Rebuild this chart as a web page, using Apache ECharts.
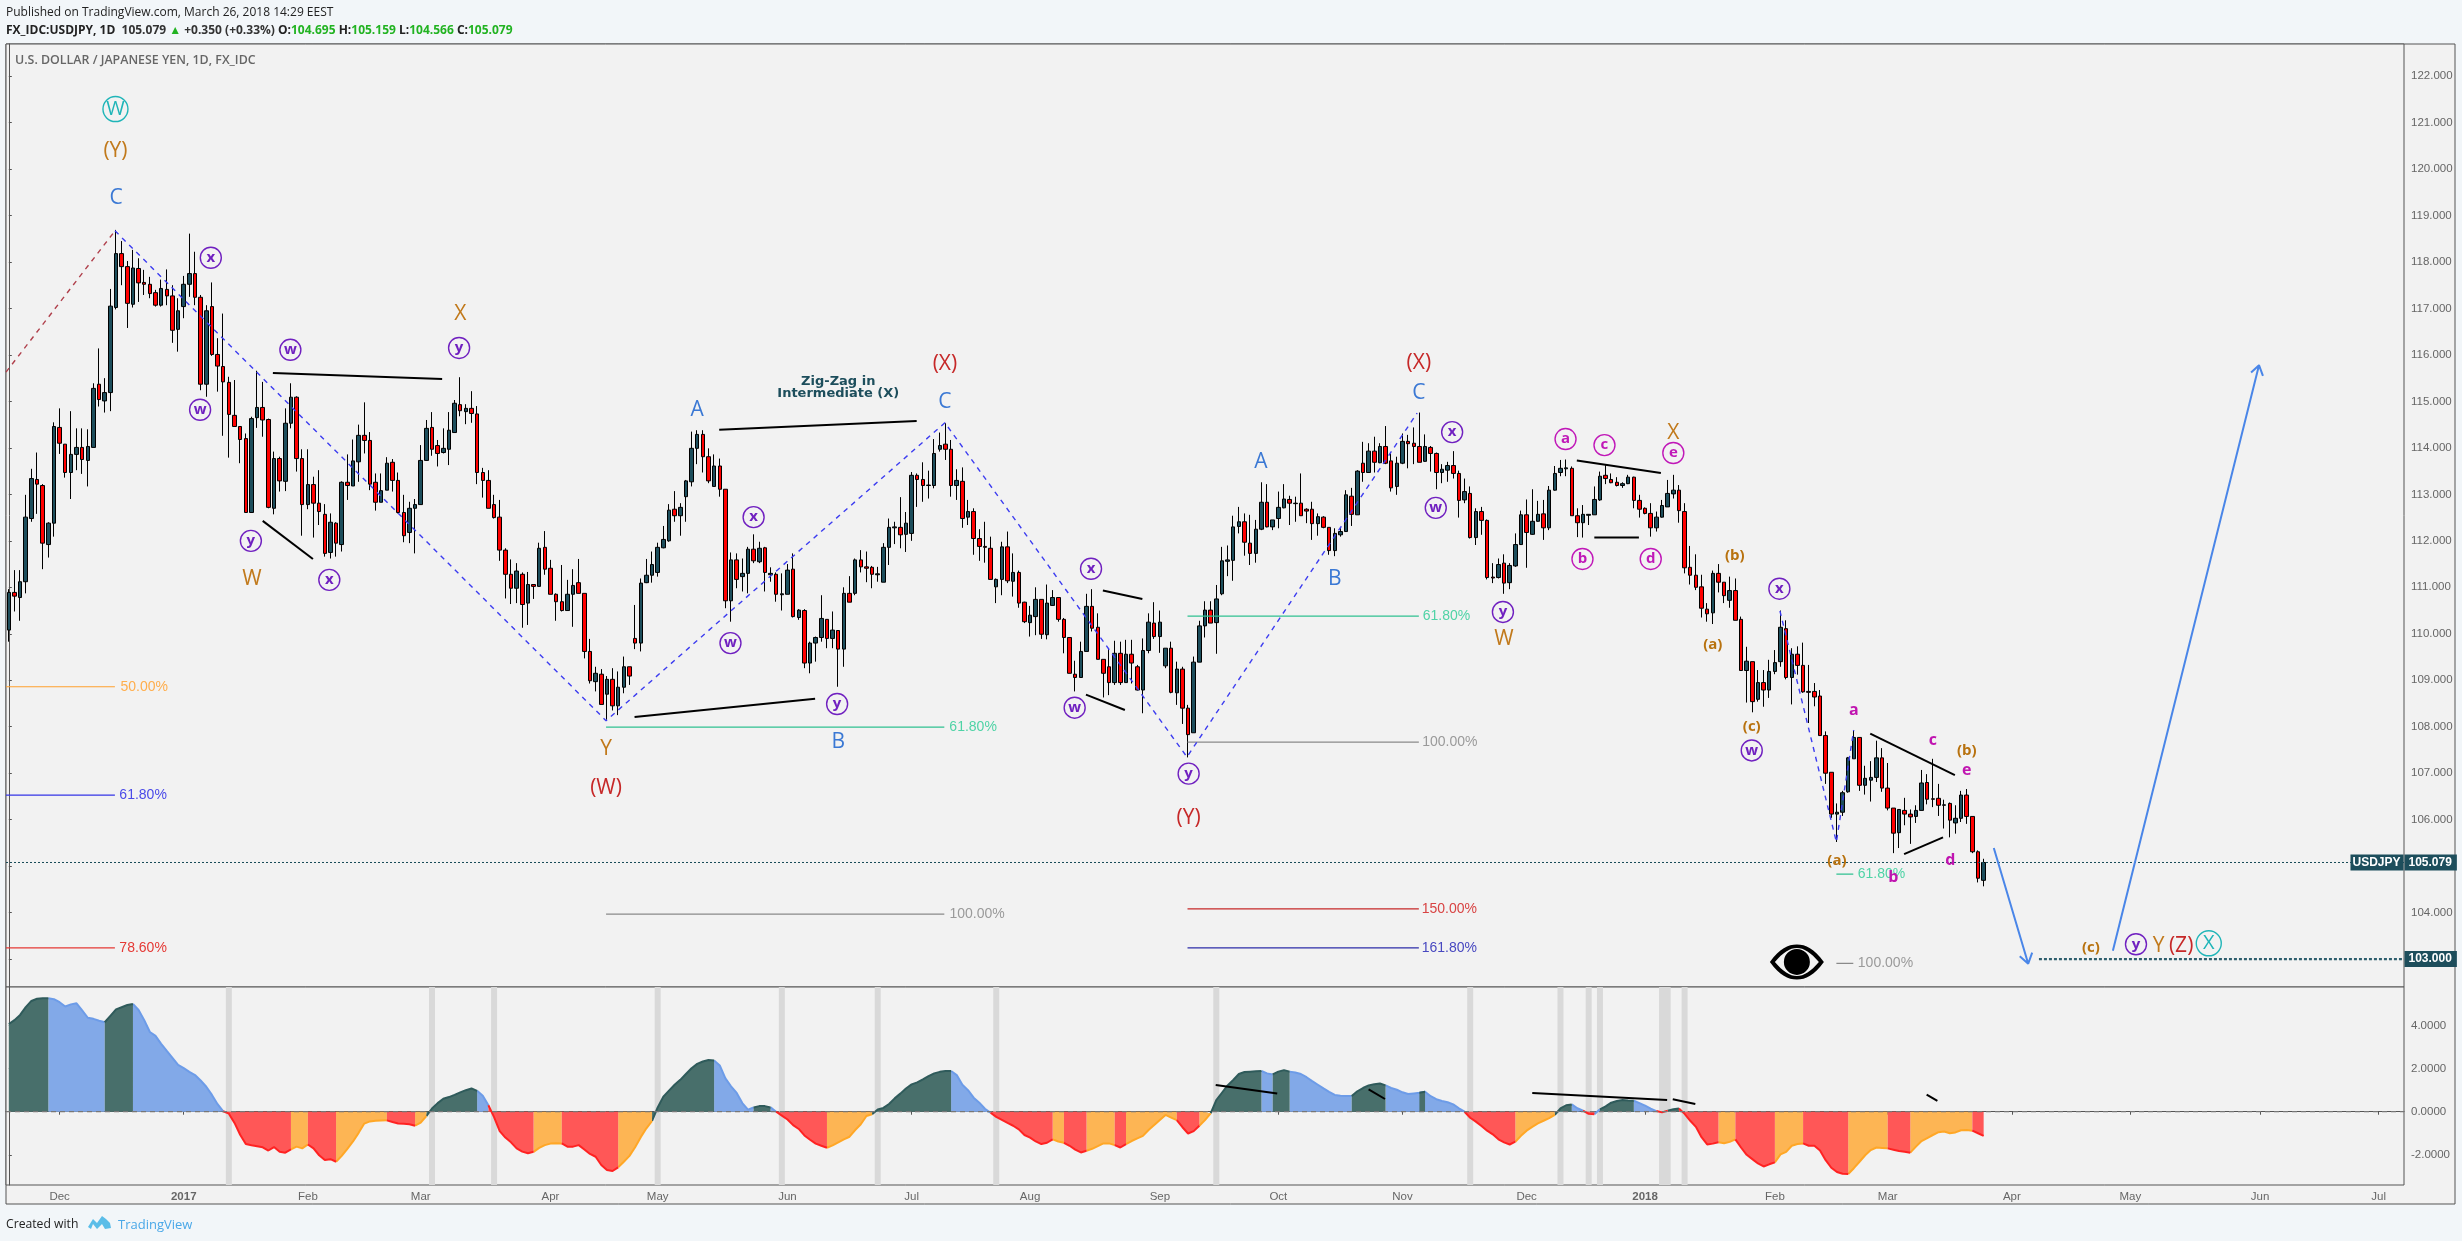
<!DOCTYPE html>
<html><head><meta charset="utf-8">
<style>html,body{margin:0;padding:0;background:#f2f6f9}#c{width:2462px;height:1241px}</style>
<script src="https://cdn.jsdelivr.net/npm/echarts@6/dist/echarts.min.js"></script>
</head><body><div id="c"></div>
<script>
// bar slots on the time axis (weekdays), real candles first, projection room after
const barCount = 425;
const categories = [];
(function(){ let d = new Date(Date.UTC(2016,10,18)); while(categories.length<barCount){ const w=d.getUTCDay(); if(w!==0&&w!==6) categories.push(d.toISOString().slice(0,10)); d=new Date(d.getTime()+864e5);} })();
// [open, close, low, high]
const ohlc = [
[110.08,110.89,109.83,110.96],[110.89,110.81,110.48,111.37],[110.78,111.12,110.28,111.37],[111.12,112.51,110.87,112.99],[112.48,113.34,112.41,113.55],
[113.32,113.22,112.58,113.90],[113.19,111.95,111.39,113.22],[111.92,112.38,111.64,112.40],[112.38,114.46,112.09,114.55],[114.44,114.10,113.87,114.85],
[114.08,113.47,113.36,114.08],[113.47,113.86,112.90,114.79],[113.86,114.01,113.52,114.42],[114.01,113.75,113.44,114.42],[113.73,114.03,113.17,114.40],
[114.01,115.28,114.01,115.39],[115.37,115.04,114.89,116.14],[115.01,115.19,114.76,115.50],[115.19,117.05,114.79,117.42],[117.02,118.18,116.98,118.69],
[118.18,117.90,117.50,118.45],[117.90,117.11,116.58,118.02],[117.09,117.87,117.02,118.26],[117.86,117.55,117.14,118.08],[117.56,117.52,117.29,117.83],
[117.52,117.32,117.22,117.68],[117.34,117.07,117.04,117.40],[117.07,117.43,117.04,117.62],[117.41,117.27,117.07,117.84],[117.27,116.53,116.26,117.50],
[116.55,116.95,116.07,117.22],[117.04,117.52,116.79,117.70],[117.52,117.75,117.25,118.61],[117.75,117.24,117.07,118.22],[117.24,115.37,115.24,117.29],
[115.37,116.95,115.10,117.07],[117.04,116.01,115.98,117.56],[116.01,115.76,115.21,116.36],[115.75,115.42,114.26,116.89],[115.41,114.72,113.79,115.53],
[114.70,114.46,114.46,115.46],[114.46,114.18,113.67,114.47],[114.20,112.61,112.61,114.31],[112.61,114.63,112.61,114.67],[114.65,114.87,114.43,115.66],
[114.87,114.60,114.24,115.42],[114.61,112.72,112.70,114.63],[112.70,113.77,112.57,113.92],[113.77,113.29,113.06,113.81],[113.28,114.53,113.07,114.85],
[114.53,115.09,114.42,115.39],[115.09,113.77,113.49,115.11],[113.77,112.78,112.11,113.97],[112.78,113.21,112.68,113.97],[113.21,112.81,112.07,113.38],
[112.81,112.63,112.34,113.52],[112.57,111.73,111.66,112.79],[111.75,112.40,111.62,112.59],[112.38,111.95,111.66,112.40],[111.92,113.26,111.77,113.28],
[113.26,113.19,112.88,113.86],[113.18,113.72,113.18,114.18],[113.70,114.27,113.27,114.50],[114.27,114.16,113.88,114.98],[114.16,113.22,113.09,114.34],
[113.26,112.83,112.65,113.45],[112.83,113.08,112.83,113.45],[113.09,113.67,113.09,113.80],[113.69,113.30,113.06,113.76],[113.30,112.61,112.59,113.47],
[112.61,112.11,111.97,112.99],[112.18,112.70,111.95,112.84],[112.70,112.78,111.73,112.90],[112.78,113.73,112.78,114.06],[113.73,114.42,113.72,114.60],
[114.44,113.97,113.83,114.77],[114.05,113.88,113.60,114.17],[113.90,113.99,113.88,114.42],[113.97,114.38,113.63,114.77],[114.33,114.96,114.33,115.03],
[114.93,114.80,114.68,115.52],[114.78,114.85,114.51,114.94],[114.85,114.74,114.54,115.22],[114.73,113.47,113.22,114.90],[113.47,113.30,112.93,113.57],
[113.30,112.70,112.70,113.52],[112.78,112.50,112.48,112.99],[112.51,111.80,111.57,112.88],[111.80,111.28,110.76,111.84],[111.28,110.98,110.64,111.60],
[110.98,111.35,110.66,111.52],[111.28,110.63,110.13,111.32],[110.66,111.06,110.19,111.33],[111.06,111.02,110.75,111.06],[111.02,111.84,111.02,111.96],
[111.86,111.39,111.27,112.21],[111.41,110.85,110.85,111.59],[110.85,110.69,110.28,110.87],[110.69,110.50,110.48,111.48],[110.50,110.85,110.50,111.16],
[110.85,111.04,110.15,111.39],[111.10,110.87,110.87,111.61],[110.87,109.62,109.47,110.87],[109.62,108.99,108.93,109.89],[108.97,109.15,108.76,109.29],
[109.13,108.48,108.48,109.24],[108.70,109.02,108.15,109.09],[109.02,108.45,108.35,109.26],[108.45,108.85,108.25,109.19],[108.85,109.29,108.72,109.51],
[109.29,109.09,108.90,109.29],[109.90,109.80,109.67,110.62],[109.80,111.09,109.62,111.19],[111.10,111.26,111.09,111.61],[111.26,111.49,111.10,111.77],
[111.32,111.86,111.23,111.96],[111.85,112.03,111.84,112.32],[112.00,112.66,111.98,112.79],[112.68,112.54,112.41,113.07],[112.54,112.72,112.11,112.81],
[112.95,113.29,112.41,113.31],[113.27,113.99,113.17,114.35],[113.99,114.29,113.65,114.38],[114.29,113.81,113.47,114.38],[113.81,113.29,113.24,113.99],
[113.17,113.61,113.17,113.86],[113.61,113.11,112.95,113.77],[113.11,110.71,110.55,113.11],[110.71,111.59,110.26,111.75],[111.59,111.17,110.98,111.73],
[111.23,111.30,110.91,111.62],[111.30,111.82,110.87,111.87],[111.82,111.57,111.52,112.14],[111.55,111.84,111.52,111.98],[111.85,111.32,110.91,111.87],
[111.27,111.30,111.12,111.43],[111.28,110.85,110.69,111.32],[110.84,110.86,110.50,111.30],[110.85,111.37,110.85,111.50],[111.39,110.37,110.35,111.73],
[110.35,110.51,110.30,110.53],[110.50,109.37,109.26,110.53],[109.37,109.80,109.15,109.83],[109.80,109.92,109.40,109.94],[109.92,110.33,109.83,110.83],
[110.31,109.90,109.69,110.31],[109.90,110.08,109.69,110.48],[110.07,109.67,108.86,110.07],[109.67,110.87,109.29,111.00],[110.87,110.68,110.68,111.24],
[110.87,111.59,110.83,111.62],[111.59,111.44,111.32,111.80],[111.44,111.41,111.11,111.77],[111.43,111.28,110.98,111.46],[111.27,111.29,111.12,111.44],
[111.11,111.86,111.11,111.95],[111.86,112.29,111.48,112.48],[112.28,112.30,111.93,112.41],[112.29,112.13,111.84,112.94],[112.14,112.38,111.76,112.62],
[112.16,113.41,112.00,113.48],[113.41,113.32,112.73,113.45],[113.32,113.19,112.84,113.69],[113.19,113.20,112.91,113.51],[113.19,113.88,113.13,114.19],
[113.97,114.05,113.92,114.33],[114.08,113.97,113.74,114.53],[113.97,113.19,112.95,114.17],[113.19,113.30,112.88,113.54],[113.28,112.48,112.28,113.58],
[112.51,112.63,112.34,112.88],[112.63,112.05,111.70,112.70],[112.05,111.88,111.57,112.25],[111.88,111.86,111.53,112.41],[111.84,111.17,111.17,112.09],
[111.01,111.17,110.66,111.19],[111.17,111.87,110.83,111.98],[111.87,111.14,111.09,112.20],[111.13,111.32,110.80,111.73],[111.32,110.66,110.56,111.36],
[110.68,110.26,110.23,110.69],[110.24,110.40,109.94,110.60],[110.37,110.74,109.97,111.00],[110.74,109.99,109.89,110.74],[109.98,110.66,109.88,111.06],
[110.61,110.78,110.60,110.94],[110.78,110.31,110.26,110.78],[110.31,109.92,109.58,110.34],[109.92,109.15,109.15,109.92],[109.13,109.06,108.76,109.42],
[109.06,109.62,109.06,109.83],[109.62,110.59,109.62,110.86],[110.59,110.12,110.05,110.96],[110.14,109.45,109.45,110.44],[109.45,109.15,108.63,109.45],
[109.29,108.95,108.68,109.69],[108.95,109.58,108.90,109.85],[109.58,108.95,108.90,109.83],[108.95,109.56,108.95,109.87],[109.56,109.37,108.93,109.87],
[109.29,108.79,108.78,109.33],[108.79,109.64,108.29,109.90],[109.64,110.25,109.58,110.44],[110.23,109.94,109.89,110.68],[109.94,110.25,109.59,110.50],
[109.31,109.69,109.26,109.69],[109.69,108.74,108.72,109.83],[108.73,109.24,108.47,109.40],[109.24,108.40,108.06,109.29],[108.40,107.83,107.34,108.47],
[107.87,109.39,107.87,109.51],[109.39,110.17,109.39,110.28],[110.17,110.51,109.92,110.70],[110.51,110.23,110.23,110.70],[110.24,110.75,109.57,111.05],
[110.86,111.57,110.83,111.87],[111.56,111.59,111.24,111.90],[111.58,112.30,111.14,112.54],[112.31,112.41,112.16,112.73],[112.41,111.97,111.68,112.59],
[111.95,111.73,111.48,112.56],[111.73,112.25,111.53,112.45],[112.25,112.83,112.23,113.26],[112.83,112.30,112.29,113.22],[112.30,112.45,112.23,112.45],
[112.48,112.72,112.27,113.06],[112.71,112.90,112.70,113.22],[112.89,112.81,112.34,112.97],[112.80,112.81,112.41,112.95],[112.81,112.54,112.54,113.45],
[112.68,112.64,112.38,112.70],[112.68,112.37,112.02,112.84],[112.37,112.52,112.11,112.59],[112.51,112.29,112.27,112.53],[112.29,111.79,111.70,112.29],
[111.79,112.16,111.67,112.27],[112.13,112.20,112.09,112.29],[112.20,112.99,112.20,113.09],[112.96,112.57,112.32,113.14],[112.56,113.50,112.56,113.52],
[113.67,113.47,113.27,114.13],[113.47,113.93,113.47,114.10],[113.93,113.69,113.47,114.24],[113.68,114.03,113.67,114.10],[114.03,113.67,113.65,114.47],
[113.72,113.14,113.06,113.88],[113.17,113.67,112.99,113.81],[113.67,114.14,113.65,114.31],[114.14,114.09,113.56,114.28],[114.10,114.03,113.65,114.44],
[114.03,113.69,113.69,114.76],[113.71,114.03,113.70,114.29],[114.01,113.88,113.49,114.04],[113.88,113.47,113.11,113.90],[113.47,113.54,113.24,113.65],
[113.52,113.62,113.27,113.70],[113.62,113.45,113.34,113.93],[113.45,112.87,112.50,113.51],[112.88,113.06,112.81,113.34],[113.02,112.07,112.05,113.17],
[112.07,112.63,111.91,112.70],[112.63,112.44,112.13,112.73],[112.44,111.21,111.17,112.46],[111.22,111.20,111.09,111.52],[111.21,111.49,111.19,111.62],
[111.52,111.09,110.86,111.71],[111.10,111.47,110.96,111.52],[111.46,111.92,111.44,112.16],[111.92,112.56,111.91,112.65],[112.56,112.18,111.42,112.89],
[112.14,112.42,112.13,113.11],[112.42,112.57,112.41,112.86],[112.58,112.28,112.02,112.88],[112.28,113.09,112.23,113.18],[113.09,113.45,113.08,113.61],
[113.47,113.56,113.39,113.74],[113.55,113.57,113.39,113.75],[113.56,112.54,112.54,113.60],[112.54,112.39,112.08,112.70],[112.39,112.57,112.07,112.77],
[112.55,112.57,112.34,112.57],[112.56,112.89,112.56,113.17],[112.88,113.39,112.86,113.49],[113.41,113.34,113.22,113.63],[113.32,113.25,113.24,113.45],
[113.26,113.19,113.17,113.37],[113.19,113.23,113.14,113.26],[113.23,113.37,113.22,113.42],[113.37,112.87,112.70,113.38],[112.87,112.68,112.50,112.99],
[112.70,112.59,112.57,112.72],[112.59,112.28,112.09,112.81],[112.28,112.51,112.20,112.63],[112.51,112.76,112.50,112.88],[112.73,113.02,112.73,113.31],
[113.01,113.09,112.91,113.42],[113.09,112.65,112.39,113.20],[112.63,111.42,111.30,112.81],[111.43,111.26,111.06,111.89],[111.26,111.00,110.94,111.71],
[111.01,110.55,110.35,111.27],[110.53,110.43,110.26,110.66],[110.45,111.30,110.21,111.36],[111.30,111.11,110.89,111.50],[111.11,110.82,110.66,111.11],
[110.72,110.93,110.56,111.23],[110.93,110.29,110.29,111.19],[110.31,109.21,109.21,110.37],[109.21,109.41,108.52,109.72],[109.40,108.54,108.31,109.40],
[108.59,108.95,108.54,109.22],[108.95,108.79,108.43,109.22],[108.79,109.19,108.62,109.44],[109.19,109.38,109.13,109.65],[109.40,110.14,109.29,110.50],
[110.11,109.06,109.02,110.29],[109.06,109.56,108.48,109.69],[109.56,109.32,109.12,109.73],[109.32,108.75,108.73,109.81],[108.76,108.74,108.08,109.33],
[108.76,108.64,108.44,108.94],[108.66,107.81,107.81,108.79],[107.81,107.00,106.77,107.90],[107.02,106.12,106.04,107.02],[106.12,106.16,105.52,106.35],
[106.16,106.58,106.08,106.62],[106.60,107.33,106.58,107.35],[107.31,107.77,107.31,107.93],[107.77,106.74,106.62,107.77],[106.74,106.89,106.54,107.16],
[106.85,106.91,106.39,107.26],[106.91,107.33,106.81,107.70],[107.33,106.68,106.60,107.54],[106.68,106.25,106.20,107.22],[106.25,105.71,105.28,106.25],
[105.72,106.22,105.39,106.22],[106.20,106.12,105.88,106.47],[106.12,106.06,105.48,106.22],[106.07,106.20,105.93,106.31],[106.20,106.79,106.20,107.07],
[106.80,106.44,106.33,106.98],[106.45,106.44,106.27,107.31],[106.46,106.31,106.08,106.77],[106.31,106.32,105.81,106.43],[106.35,105.99,105.62,106.37],
[105.93,106.03,105.70,106.31],[106.03,106.53,105.95,106.62],[106.53,106.07,105.91,106.66],[106.07,105.31,105.28,106.07],[105.31,104.74,104.65,105.34],
[104.695,105.079,104.566,105.159]
];
const oscValues = [
4.07,4.25,4.49,4.85,5.14,5.24,5.27,5.26,5.22,5.08,4.88,4.98,5.03,4.70,4.36,4.31,4.22,4.15,4.45,4.75,
4.85,4.95,5.00,4.72,4.25,3.70,3.52,3.15,2.82,2.50,2.17,2.02,1.85,1.70,1.45,1.16,0.78,0.35,0.02,-0.09,
-0.52,-1.07,-1.50,-1.56,-1.60,-1.65,-1.80,-1.64,-1.86,-1.90,-1.75,-1.62,-1.70,-1.52,-1.70,-2.02,-2.24,-2.20,-2.32,-2.05,
-1.72,-1.38,-0.98,-0.55,-0.45,-0.42,-0.41,-0.40,-0.48,-0.55,-0.56,-0.58,-0.65,-0.51,-0.20,0.15,0.40,0.60,0.68,0.78,
0.90,1.00,1.08,0.97,0.74,0.30,-0.25,-0.90,-1.20,-1.42,-1.70,-1.85,-1.93,-1.86,-1.68,-1.55,-1.48,-1.46,-1.47,-1.62,
-1.62,-1.55,-1.75,-1.96,-2.09,-2.47,-2.70,-2.75,-2.58,-2.32,-2.05,-1.65,-1.18,-0.77,-0.43,0.20,0.70,0.98,1.25,1.48,
1.75,2.02,2.22,2.33,2.40,2.38,2.15,1.55,1.18,0.87,0.40,0.10,0.20,0.26,0.26,0.20,0.00,-0.18,-0.36,-0.62,
-0.80,-1.10,-1.30,-1.48,-1.58,-1.67,-1.56,-1.42,-1.28,-1.16,-0.85,-0.58,-0.20,-0.12,0.10,0.18,0.36,0.62,0.84,1.08,
1.27,1.36,1.50,1.65,1.78,1.85,1.89,1.89,1.70,1.25,1.00,0.65,0.42,0.14,-0.05,-0.24,-0.38,-0.52,-0.65,-0.82,
-1.08,-1.20,-1.38,-1.50,-1.44,-1.28,-1.38,-1.44,-1.58,-1.76,-1.89,-1.81,-1.72,-1.60,-1.47,-1.47,-1.55,-1.66,-1.50,-1.36,
-1.24,-1.12,-0.85,-0.62,-0.38,-0.15,-0.27,-0.39,-0.72,-1.01,-0.90,-0.65,-0.39,-0.08,0.54,0.88,1.22,1.47,1.75,1.84,
1.86,1.88,1.89,1.78,1.73,1.86,1.93,1.86,1.82,1.75,1.60,1.42,1.25,1.08,0.92,0.78,0.74,0.73,0.73,0.95,
1.10,1.22,1.28,1.31,1.22,1.10,1.02,0.90,0.82,0.85,0.88,0.93,0.72,0.58,0.50,0.44,0.34,0.16,0.00,-0.28,
-0.46,-0.66,-0.88,-1.05,-1.28,-1.42,-1.52,-1.39,-1.12,-0.88,-0.70,-0.54,-0.42,-0.30,-0.15,0.15,0.30,0.34,0.16,0.05,
-0.10,-0.12,0.11,0.25,0.42,0.50,0.54,0.52,0.51,0.40,0.28,0.14,0.03,-0.03,0.05,0.12,0.15,-0.10,-0.42,-0.70,
-1.18,-1.52,-1.48,-1.42,-1.46,-1.40,-1.28,-1.66,-2.00,-2.20,-2.40,-2.54,-2.44,-2.35,-1.98,-1.86,-1.58,-1.50,-1.47,-1.58,
-1.58,-1.80,-2.25,-2.60,-2.80,-2.88,-2.89,-2.62,-2.32,-2.02,-1.78,-1.66,-1.68,-1.70,-1.76,-1.82,-1.86,-1.90,-1.62,-1.36,
-1.22,-1.08,-0.95,-0.92,-1.00,-0.96,-0.86,-0.85,-0.88,-1.00,-1.12
];
// colour state of the oscillator: [first bar, state]; g rising>0, b falling>0, r falling<0, o rising<0
const oscRuns = [[0,'g'],[7,'b'],[17,'g'],[22,'b'],[38,'r'],[50,'o'],[53,'r'],[58,'o'],[67,'r'],[72,'o'],[74,'g'],[83,'b'],[85,'r'],[93,'o'],[98,'r'],[108,'o'],[114,'g'],[125,'b'],[132,'g'],[135,'b'],[136,'r'],[145,'o'],[153,'g'],[167,'b'],[174,'r'],[185,'o'],[187,'r'],[191,'o'],[196,'r'],[198,'o'],[207,'r'],[211,'o'],[213,'g'],[222,'b'],[224,'g'],[227,'b'],[238,'g'],[244,'b'],[250,'g'],[251,'b'],[258,'r'],[267,'o'],[274,'g'],[277,'b'],[279,'r'],[281,'b'],[282,'g'],[288,'b'],[292,'r'],[294,'g'],[296,'r'],[303,'o'],[306,'r'],[313,'o'],[318,'r'],[326,'o'],[333,'r'],[337,'o'],[348,'r']];
const signalBars = [39,75,86,115,137,154,175,214,259,275,280,282,293,294,297];
const monthTicks = [[9,'Dec'],[31,'2017'],[53,'Feb'],[73,'Mar'],[96,'Apr'],[115,'May'],[138,'Jun'],[160,'Jul'],[181,'Aug'],[204,'Sep'],[225,'Oct'],[247,'Nov'],[269,'Dec'],[290,'2018'],[313,'Feb'],[333,'Mar'],[355,'Apr'],[376,'May'],[399,'Jun'],[420,'Jul']];
const priceTicks = [103,104,105,106,107,108,109,110,111,112,113,114,115,116,117,118,119,120,121,122];
const oscTicks = [-2,0,2,4];
// drawings, in [bar, price]
const blueZigzag = [[18.82,118.67],[105.85,108.13],[165.9,114.54],[208.8,107.35],[249.6,114.75]];
const blueZigzag2 = [[313.9,110.49],[323.9,105.52],[326.97,107.93]];
const redDashed = [[-0.5,115.63],[18.82,118.67]];
const blackLines = [
[[46.8,115.61],[76.8,115.48]],[[45,112.43],[53.9,111.61]],[[125.9,114.39],[160.9,114.58]],[[110.9,108.21],[142.9,108.6]],
[[193.9,110.93],[200.9,110.75]],[[190.9,108.69],[197.8,108.36]],[[277.9,113.73],[292.8,113.46]],[[281,112.07],[288.9,112.07]],
[[329.9,107.85],[344.9,106.96]],[[335.9,105.26],[342.8,105.62]]];
const oscBlackLines = [[[213.9,1.24],[224.8,0.85]],[[241,1.04],[243.9,0.59]],[[270,0.87],[293.9,0.54]],[[294.9,0.58],[298.9,0.36]],[[339.9,0.79],[341.8,0.5]]];
const downArrow = [[351.8,105.39],[357.9,102.9],[356.4,103.06],[357.9,102.9],[358.6,103.14]];
const upArrow = [[372.9,103.18],[398.8,115.78],[397.4,115.62],[398.8,115.78],[399.5,115.55]];
// fib level: [bar from, bar to, price, colour key, text, text bar]
const fibLevels = [
[-0.5,18.8,108.86,'orange','50.00%',24],[-0.5,18.8,106.53,'blue','61.80%',23.8],[-0.5,18.8,103.24,'red','78.60%',23.8],
[105.85,165.8,107.99,'green','61.80%',170.9],[105.85,165.8,103.97,'grey','100.00%',171.6],
[208.9,249.9,110.38,'green','61.80%',254.8],[208.9,249.9,107.67,'grey','100.00%',255.4],[208.9,249.9,104.08,'red2','150.00%',255.3],[208.9,249.9,103.24,'indigo','161.80%',255.3],
[323.9,326.9,104.83,'green','61.80%',331.9],[323.9,326.9,102.91,'grey','100.00%',332.6]];
const plainLabels = [
['(Y)',18.9,120.38,'brown'],['C',19,119.38,'blue'],['X',80,116.88,'brown'],['W',43.1,111.18,'brown'],['Y',105.85,107.52,'brown'],['(W)',105.85,106.68,'crimson'],
['A',122,114.82,'blue'],['(X)',165.9,115.8,'crimson'],['C',165.9,114.99,'blue'],['B',147,107.67,'blue'],['(Y)',209.1,106.04,'crimson'],['(X)',249.9,115.83,'crimson'],
['C',249.9,115.18,'blue'],['A',221.9,113.7,'blue'],['B',235,111.18,'blue'],['W',265,109.89,'brown'],['X',295,114.33,'brown'],
['Y',381,103.29,'brown'],['(Z)',385,103.29,'crimson'],
['(b)',305.9,111.68,'brownBold'],['(a)',302,109.76,'brownBold'],['(c)',308.9,108,'brownBold'],['(b)',347,107.49,'brownBold'],['(a)',324,105.12,'brownBold'],['(c)',369,103.24,'brownBold'],
['a',327,108.34,'magentaBold'],['c',341,107.7,'magentaBold'],['e',347,107.07,'magentaBold'],['d',344.1,105.12,'magentaBold'],['b',334,104.75,'magentaBold']];
const circledLabels = [
['W',18.9,121.29,'cyan'],['X',389.9,103.34,'cyan'],
['x',35.8,118.09,'purple'],['w',49.9,116.11,'purple'],['y',79.8,116.15,'purple'],['w',33.9,114.82,'purple'],['y',42.9,112,'purple'],['x',56.8,111.16,'purple'],
['x',132,112.51,'purple'],['w',127.9,109.8,'purple'],['y',146.8,108.49,'purple'],['x',191.8,111.4,'purple'],['w',188.9,108.41,'purple'],['y',209.1,106.99,'purple'],
['x',255.8,114.34,'purple'],['w',252.9,112.71,'purple'],['y',264.8,110.47,'purple'],['w',308.9,107.49,'purple'],['x',313.8,110.97,'purple'],['y',377,103.32,'purple'],
['a',275.9,114.19,'magenta'],['c',282.8,114.06,'magenta'],['e',295,113.89,'magenta'],['b',278.9,111.61,'magenta'],['d',291,111.61,'magenta']];
const noteLabel = ['Zig-Zag in\nIntermediate (X)',147,115.29];
const eyeMark = [316.9,102.94];
const lastPrice = 105.079;
const targetPrice = 103;
const targetStartBar = 359.8;

const lastBar = barCount-0.5, firstBar=-0.5;
const C = {up:'#1d4e5c',down:'#ff0000',bg:'#f2f2f2',frame:'#555555',axis:'#666666',
 orange:'#ffa02e',blue:'#3434e6',red:'#e53935',green:'#2fc090',grey:'#8a8a8a',red2:'#c62828',indigo:'#2c2ca8'};
const fibText = {orange:'#ffae4d',blue:'#4a4ae8',red:'#e53935',green:'#4fd3a6',grey:'#9a9a9a',red2:'#d84343',indigo:'#4848c0'};
const textStyles = {
 brown:{color:'#c1791b',size:21},crimson:{color:'#c62828',size:21},blue:{color:'#3a78d4',size:21},
 brownBold:{color:'#b8720f',size:15,bold:true},magentaBold:{color:'#c015b0',size:16,bold:true}};
const circleStyles = {cyan:{color:'#1fb5b8',d:25,size:20,bold:false},purple:{color:'#7020c0',d:21,size:15,bold:true},magenta:{color:'#c018b8',d:21,size:15,bold:true}};
const FONT = '"Liberation Sans",Arial,sans-serif', OPEN='"Open Sans",sans-serif';

const series = [];
series.push({type:'candlestick',name:'USDJPY',xAxisIndex:0,yAxisIndex:0,data:ohlc,barWidth:4,z:3,
  itemStyle:{color:C.up,color0:C.down,borderColor:'#000',borderColor0:'#000',borderWidth:1}});
function line(data,color,width,type,xi,yi,z){
  return {type:'line',data,xAxisIndex:xi,yAxisIndex:yi,showSymbol:false,symbol:'none',silent:true,z:z||5,animation:false,
    lineStyle:{color,width,type:type||'solid'}};
}
const hidden={color:'transparent',opacity:1};
series.push(line(redDashed,'#b0404c',1.4,[5,5],1,0));
series.push(line(blueZigzag,'#3c3cf0',1.4,[5,5],1,0));
series.push(line(blueZigzag2,'#3c3cf0',1.4,[5,5],1,0));
blackLines.forEach(s=>series.push(line(s,'#000',2,'solid',1,0,6)));
series.push(line(downArrow,'#4a86e8',2,'solid',1,0,6));
series.push(line(upArrow,'#4a86e8',2,'solid',1,0,6));
series.push(line([[firstBar,lastPrice],[lastBar,lastPrice]],'#174a58',1,[2,2],1,0,4));
series.push(line([[targetStartBar,targetPrice],[lastBar,targetPrice]],'#2f5f6e',2.2,[3,2],1,0,4));
fibLevels.forEach(f=>{
  series.push(line([[f[0],f[2]],[f[1],f[2]]],C[f[3]],1.2,'solid',1,0,4));
  series.push({type:'scatter',xAxisIndex:1,yAxisIndex:0,silent:true,symbolSize:1,z:7,itemStyle:hidden,data:[[f[5],f[2]]],
    label:{show:true,position:'inside',formatter:f[4],color:fibText[f[3]],fontSize:14,fontFamily:FONT}});
});
Object.keys(textStyles).forEach(k=>{
  const st=textStyles[k];
  plainLabels.filter(l=>l[3]===k).forEach(l=>series.push({type:'scatter',xAxisIndex:1,yAxisIndex:0,silent:true,symbolSize:1,z:8,itemStyle:hidden,data:[[l[1],l[2]]],
    label:{show:true,position:'inside',formatter:l[0],color:st.color,fontSize:st.size,fontWeight:st.bold?'bold':'normal',fontFamily:OPEN}}));
});
circledLabels.forEach(l=>{
  const st=circleStyles[l[3]];
  series.push({type:'scatter',xAxisIndex:1,yAxisIndex:0,silent:true,symbol:'circle',symbolSize:st.d,z:8,
    itemStyle:{color:'transparent',borderColor:st.color,borderWidth:1.4,opacity:1},data:[[l[1],l[2]]],
    label:{show:true,position:'inside',formatter:l[0],color:st.color,fontSize:st.size,fontWeight:st.bold?'bold':'normal',fontFamily:OPEN}});
});
series.push({type:'scatter',xAxisIndex:1,yAxisIndex:0,silent:true,symbolSize:1,z:8,itemStyle:hidden,data:[[noteLabel[1],noteLabel[2]]],
  label:{show:true,position:'inside',formatter:noteLabel[0],color:'#1d4e5c',fontSize:13,fontWeight:'bold',lineHeight:12,align:'center',fontFamily:'"DejaVu Sans",sans-serif'}});
series.push({type:'scatter',xAxisIndex:1,yAxisIndex:0,silent:true,z:8,data:[eyeMark],symbolSize:[54,35],itemStyle:{color:'#000',opacity:1},
  symbol:'path://M0 17.5C10 4 18 0 27 0C36 0 44 4 54 17.5C44 31 36 35 27 35C18 35 10 31 0 17.5ZM5 17.5C13 27 20 31.5 27 31.5C34 31.5 41 27 49 17.5C41 8 34 3.5 27 3.5C20 3.5 13 8 5 17.5ZM14 17.5A13 13 0 1 1 40 17.5A13 13 0 1 1 14 17.5ZM19 15C20 11 22 8 26 7C24 10 22 12 21 15.5C20.5 16.5 19 16 19 15Z'});
// axis tags
function tag(price,text,pos,pad){
  return {type:'scatter',xAxisIndex:1,yAxisIndex:0,silent:true,symbolSize:1,z:20,clip:false,itemStyle:hidden,data:[[lastBar,price]],
   label:{show:true,position:pos,distance:0,formatter:text,color:'#fff',fontSize:12,fontWeight:'bold',fontFamily:FONT,backgroundColor:C.up,padding:pad,lineHeight:12}};
}
series.push(tag(lastPrice,'105.079','right',[2,5,2,4]));
series.push(tag(lastPrice,'USDJPY','left',[2,3,2,2]));
series.push(tag(targetPrice,'103.000','right',[2,5,2,4]));

// oscillator
const oscMax=5.787, oscMin=-3.4;
const sigTop=categories.map((_,i)=>signalBars.includes(i)?oscMax:null);
const sigBot=categories.map((_,i)=>signalBars.includes(i)?oscMin:null);
series.push({type:'bar',xAxisIndex:2,yAxisIndex:1,data:sigTop,barWidth:6,barGap:'-100%',silent:true,z:1,itemStyle:{color:'#d9d9d9'}});
series.push({type:'bar',xAxisIndex:2,yAxisIndex:1,data:sigBot,barWidth:6,barGap:'-100%',silent:true,z:1,itemStyle:{color:'#d9d9d9'}});
const oscStyle={b:{fill:'#82a9e8',stroke:'#6d9ce8'},g:{fill:'#486f6b',stroke:'#2f5b5b'},o:{fill:'#fdb554',stroke:'#ffa726'},r:{fill:'#ff5757',stroke:'#ff2222'}};
['b','g','o','r'].forEach((k,n)=>{
  const arr=new Array(barCount).fill(null);
  oscRuns.forEach((run,ri)=>{
    if(run[1]!==k) return;
    const end=ri+1<oscRuns.length?oscRuns[ri+1][0]:oscValues.length-1;
    for(let j=run[0];j<=end;j++) arr[j]=oscValues[j];
  });
  series.push({type:'line',xAxisIndex:2,yAxisIndex:1,data:arr,symbol:'none',showSymbol:false,connectNulls:false,silent:true,z:2+n*0.1,
    areaStyle:{color:oscStyle[k].fill,opacity:1,origin:'auto'},lineStyle:{color:oscStyle[k].stroke,width:2}});
});
series.push(line([[firstBar,0],[lastBar,0]],'#777',1.2,[5,4],3,1,4));
oscBlackLines.forEach(s=>series.push(line(s,'#000',2,'solid',3,1,6)));

const tickMap={}; monthTicks.forEach(t=>tickMap[t[0]]=t[1]);
const pick=(i)=>tickMap[i]!==undefined;
const option={
 animation:false,
 backgroundColor:'#f2f6f9',
 title:[
  {text:'Published on TradingView.com, March 26, 2018 14:29 EEST',left:6,top:7,padding:0,textStyle:{fontFamily:OPEN,fontWeight:'normal',fontSize:12,color:'#222'}},
  {text:'{b|FX_IDC:USDJPY, 1D}{n|  105.079 }{g|▲}{n| +0.350 (+0.33%) }{b|O:}{g|104.695 }{b|H:}{g|105.159 }{b|L:}{g|104.566 }{b|C:}{g|105.079}',left:6,top:25,padding:0,
   textStyle:{rich:{b:{fontFamily:OPEN,fontWeight:'bold',fontSize:12,color:'#222'},n:{fontFamily:OPEN,fontSize:12,color:'#333'},g:{fontFamily:OPEN,fontSize:12,color:'#22b322'}}}},
  {text:'U.S. DOLLAR / JAPANESE YEN, 1D, FX_IDC',left:15,top:54,padding:0,textStyle:{fontFamily:OPEN,fontWeight:'600',fontSize:12.4,color:'#666'}},
  {text:'Created with',left:6,top:1219,padding:0,textStyle:{fontFamily:OPEN,fontWeight:'normal',fontSize:12.2,color:'#222'}},
  {text:'TradingView',left:118,top:1219,padding:0,textStyle:{fontFamily:OPEN,fontWeight:'normal',fontSize:13,color:'#4aa8e8'}}
 ],
 graphic:[
  {type:'rect',z:-5,silent:true,shape:{x:6,y:44,width:2449,height:1160},style:{fill:'#f2f2f2',stroke:'#555',lineWidth:1}},
  {type:'polygon',silent:true,shape:{points:[[88,1227],[93,1219],[97,1223],[102,1216],[106,1219],[110,1223],[111,1228],[105,1229],[102,1224],[97,1229],[93,1224],[91,1229]]},style:{fill:'#5bbde8'}}
 ],
 grid:[
  {left:6,right:58,top:44,height:943,show:true,backgroundColor:C.bg,borderColor:C.frame,borderWidth:1},
  {left:6,right:58,top:987,height:198,show:true,backgroundColor:C.bg,borderColor:C.frame,borderWidth:1}
 ],
 xAxis:[
  {type:'category',gridIndex:0,data:categories,boundaryGap:true,axisLine:{show:false},axisTick:{show:false},axisLabel:{show:false},splitLine:{show:false}},
  {type:'value',gridIndex:0,min:firstBar,max:lastBar,show:false,position:'top'},
  {type:'category',gridIndex:1,data:categories,boundaryGap:true,axisLine:{lineStyle:{color:C.frame}},
   axisTick:{show:true,alignWithLabel:true,length:3,lineStyle:{color:C.frame},interval:(i)=>pick(i)},
   axisLabel:{show:true,interval:(i)=>pick(i),margin:6,hideOverlap:false,
    formatter:(v,i)=>{const t=tickMap[i]; if(t===undefined) return ''; return /^\d/.test(t)?'{y|'+t+'}':'{m|'+t+'}';},
    rich:{m:{fontSize:11.5,color:C.axis,fontFamily:FONT},y:{fontSize:11.5,color:C.axis,fontWeight:'bold',fontFamily:FONT}}},splitLine:{show:false}},
  {type:'value',gridIndex:1,min:firstBar,max:lastBar,show:false,position:'top'}
 ],
 yAxis:[
  {type:'value',gridIndex:0,position:'right',min:102.4,max:122.69,splitLine:{show:false},
   axisLine:{show:true,lineStyle:{color:C.frame}},axisTick:{show:true,length:3,lineStyle:{color:C.frame},customValues:priceTicks},
   axisLabel:{show:true,customValues:priceTicks,margin:7,color:C.axis,fontSize:11.5,fontFamily:FONT,formatter:v=>Number(v).toFixed(3)}},
  {type:'value',gridIndex:1,position:'right',min:oscMin,max:oscMax,splitLine:{show:false},
   axisLine:{show:true,lineStyle:{color:C.frame}},axisTick:{show:true,length:3,lineStyle:{color:C.frame},customValues:oscTicks},
   axisLabel:{show:true,customValues:oscTicks,margin:7,color:C.axis,fontSize:11.5,fontFamily:FONT,formatter:v=>Number(v).toFixed(4)}}
 ],
 series
};
const chart=echarts.init(document.getElementById('c'),null,{renderer:'canvas',width:2462,height:1241});
chart.setOption(option);
</script></body></html>
